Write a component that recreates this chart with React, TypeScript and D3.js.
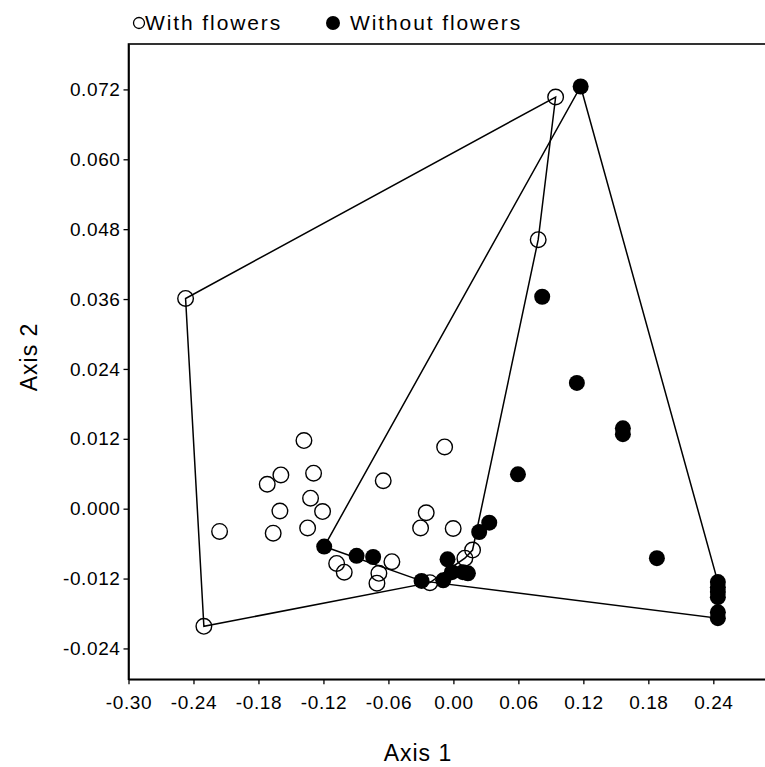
import React, { useEffect, useRef } from "react";
import * as d3 from "d3";

// points: [axis1, axis2]
const withFlowers: [number, number][] = [
  [0.0944, 0.0707], [-0.2473, 0.0361], [0.0783, 0.0462], [-0.2304, -0.0202],
  [-0.2159, -0.0039], [-0.138, 0.0117], [-0.1719, 0.0042], [-0.1593, 0.0058],
  [-0.1291, 0.0061], [-0.1319, 0.0018], [-0.1602, -0.0004], [-0.1208, -0.0005],
  [-0.1346, -0.0033], [-0.1664, -0.0042], [-0.0648, 0.0048], [-0.0081, 0.0106],
  [-0.0251, -0.0007], [-0.0303, -0.0033], [-0.0002, -0.0034], [-0.1078, -0.0094],
  [-0.1008, -0.0109], [-0.0568, -0.0091], [-0.0688, -0.0111], [-0.0706, -0.0128],
  [-0.0217, -0.0127], [0.0106, -0.0085], [0.0177, -0.0071],
];

const withoutFlowers: [number, number][] = [
  [0.1175, 0.0725], [0.082, 0.0364], [0.114, 0.0216], [0.1565, 0.0138],
  [0.1565, 0.0128], [0.0596, 0.0059], [0.1879, -0.0085],
  [0.2442, -0.0126], [0.2442, -0.0135], [0.2442, -0.0143], [0.2442, -0.0152],
  [0.2442, -0.0178], [0.2442, -0.0188],
  [-0.1193, -0.0065], [-0.0894, -0.0081], [-0.0741, -0.0083], [-0.0294, -0.0124],
  [-0.0094, -0.0123], [-0.0054, -0.0087], [-0.0014, -0.0109], [0.0088, -0.0109],
  [0.0134, -0.0111], [0.0238, -0.004], [0.0331, -0.0024],
];

const xTicks = [-0.3, -0.24, -0.18, -0.12, -0.06, 0, 0.06, 0.12, 0.18, 0.24];
const yTicks = [-0.024, -0.012, 0, 0.012, 0.024, 0.036, 0.048, 0.06, 0.072];

const legendLabels = ["With flowers", "Without flowers"];
const axisTitles = ["Axis 1", "Axis 2"];

const W = 765;
const H = 767;
const font = "'Liberation Sans', Arial, sans-serif";

// plain hyphen instead of d3's unicode minus
const fmt = (digits: number) => (v: d3.NumberValue) => (+v).toFixed(digits);

export default function App() {
  const svgRef = useRef<SVGSVGElement>(null);

  useEffect(() => {
    const svg = d3.select(svgRef.current);
    svg.selectAll("*").remove();

    const x = d3.scaleLinear().domain([-0.3, 0.3]).range([128.5, 778.3]);
    const y = d3.scaleLinear().domain([-0.0293, 0.0798]).range([679.3, 44]);

    // frame
    svg.append("rect")
      .attr("x", x(-0.3))
      .attr("y", y(0.0798))
      .attr("width", x(0.3) - x(-0.3))
      .attr("height", y(-0.0293) - y(0.0798))
      .attr("fill", "none")
      .attr("stroke", "#000")
      .attr("stroke-width", 1.6);

    const xAxis = svg.append("g")
      .attr("transform", `translate(0,${y(-0.0293)})`)
      .call(d3.axisBottom(x).tickValues(xTicks).tickFormat(fmt(2)).tickSize(5).tickPadding(11).tickSizeOuter(0));
    const yAxis = svg.append("g")
      .attr("transform", `translate(${x(-0.3)},0)`)
      .call(d3.axisLeft(y).tickValues(yTicks).tickFormat(fmt(3)).tickSize(5).tickPadding(3).tickSizeOuter(0));

    [xAxis, yAxis].forEach(g => {
      g.select(".domain").attr("stroke-width", 1.6);
      g.selectAll(".tick line").attr("stroke-width", 1.3);
      g.selectAll(".tick text")
        .attr("fill", "#000")
        .style("font-family", font)
        .style("font-size", "19px")
        .style("letter-spacing", "0.6px");
    });

    // convex hulls
    const line = d3.line<[number, number]>().x(d => x(d[0])).y(d => y(d[1])).curve(d3.curveLinearClosed);
    [withFlowers, withoutFlowers].forEach(pts => {
      const hull = d3.polygonHull(pts as [number, number][]);
      if (!hull) return;
      svg.append("path")
        .attr("d", line(hull as [number, number][]))
        .attr("fill", "none")
        .attr("stroke", "#000")
        .attr("stroke-width", 1.5);
    });

    svg.append("g").selectAll("circle")
      .data(withFlowers)
      .join("circle")
      .attr("cx", d => x(d[0]))
      .attr("cy", d => y(d[1]))
      .attr("r", 7.8)
      .attr("fill", "none")
      .attr("stroke", "#000")
      .attr("stroke-width", 1.4);

    svg.append("g").selectAll("circle")
      .data(withoutFlowers)
      .join("circle")
      .attr("cx", d => x(d[0]))
      .attr("cy", d => y(d[1]))
      .attr("r", 8)
      .attr("fill", "#000");

    // legend
    svg.append("circle").attr("cx", 139).attr("cy", 23).attr("r", 5.5)
      .attr("fill", "none").attr("stroke", "#000").attr("stroke-width", 1.3);
    svg.append("text").attr("x", 145).attr("y", 30).text(legendLabels[0])
      .style("font-family", font).style("font-size", "21px").style("letter-spacing", "1.9px");
    svg.append("circle").attr("cx", 333).attr("cy", 23).attr("r", 7).attr("fill", "#000");
    svg.append("text").attr("x", 350).attr("y", 30).text(legendLabels[1])
      .style("font-family", font).style("font-size", "21px").style("letter-spacing", "1.9px");

    // axis titles
    svg.append("text")
      .attr("x", 418).attr("y", 761)
      .attr("text-anchor", "middle")
      .style("font-family", font).style("font-size", "23px").style("letter-spacing", "1px")
      .text(axisTitles[0]);
    svg.append("text")
      .attr("transform", "translate(37,357) rotate(-90)")
      .attr("text-anchor", "middle")
      .style("font-family", font).style("font-size", "23px").style("letter-spacing", "1px")
      .text(axisTitles[1]);
  }, []);

  return (
    <svg ref={svgRef} width={W} height={H}
      style={{ position: "absolute", left: 0, top: 0, background: "#fff" }} />
  );
}
